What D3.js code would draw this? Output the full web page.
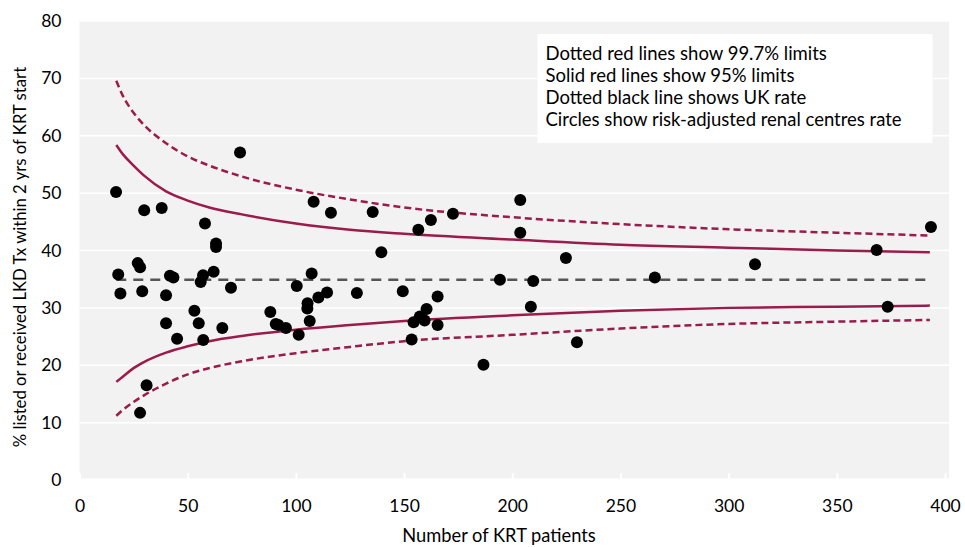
<!DOCTYPE html>
<html>
<head>
<meta charset="utf-8">
<script src="https://cdn.jsdelivr.net/npm/d3@7"></script>
<style>
  body { margin: 0; background: #fff; }
  text { font-family: Lato, "Open Sans", sans-serif; fill: #000; }
</style>
</head>
<body>
<div id="chart"></div>
<script>
// tick labels
const xTicks = [0, 50, 100, 150, 200, 250, 300, 350, 400];
const yTicks = [0, 10, 20, 30, 40, 50, 60, 70, 80];

// UK rate (dotted black line)
const ukRate = 34.9;

// funnel limits
const limitN   = [17, 20, 25, 30, 40, 50, 60, 75, 100, 125, 150, 200, 250, 300, 350, 393];
const upper997 = [69.6, 67.0, 64.0, 61.8, 58.7, 56.4, 54.8, 52.9, 50.6, 48.9, 47.5, 45.8, 44.6, 43.7, 43.1, 42.6];
const upper95  = [58.4, 56.8, 54.8, 53.0, 50.3, 48.7, 47.5, 46.3, 44.7, 43.6, 42.9, 41.9, 41.0, 40.5, 40.0, 39.7];
const lower95  = [17.1, 18.0, 19.5, 20.6, 22.2, 23.3, 24.2, 25.1, 26.2, 27.0, 27.7, 28.7, 29.5, 30.0, 30.2, 30.4];
const lower997 = [11.2, 12.2, 13.6, 14.8, 16.8, 18.4, 19.5, 20.7, 22.1, 23.2, 24.2, 25.3, 26.4, 27.2, 27.6, 27.9];

// renal centres: number of KRT patients and risk-adjusted rate
const centreN = [
  74.2, 16.9, 29.9, 38.0, 58.0, 63.1, 63.1, 26.9, 28.0, 17.9,
  41.8, 43.4, 57.1, 56.0, 62.0, 70.0, 18.9, 29.0, 40.0, 53.1,
  88.2, 90.7, 40.0, 55.1, 66.0, 45.1, 57.2, 31.0, 28.0, 108.2,
  116.2, 135.5, 172.6, 162.4, 156.6, 139.5, 107.3, 100.4, 194.3, 114.4,
  110.4, 128.2, 149.4, 165.5, 105.4, 105.3, 160.4, 157.3, 159.5, 154.4,
  91.9, 95.4, 106.4, 165.5, 101.3, 153.5, 186.7, 203.7, 203.7, 224.8,
  209.7, 265.9, 312.2, 368.4, 393.5, 208.6, 373.5, 229.9
];
const centreRate = [
  57.1, 50.2, 47.0, 47.4, 44.7, 41.2, 40.6, 37.8, 37.1, 35.8,
  35.6, 35.3, 35.7, 34.5, 36.3, 33.5, 32.5, 32.9, 32.2, 29.5,
  29.3, 27.2, 27.3, 27.3, 26.5, 24.6, 24.4, 16.5, 11.7, 48.5,
  46.6, 46.7, 46.4, 45.3, 43.6, 39.7, 36.0, 33.8, 34.9, 32.7,
  31.8, 32.6, 32.9, 32.0, 30.8, 29.9, 29.8, 28.5, 27.8, 27.5,
  27.0, 26.5, 27.7, 27.0, 25.3, 24.5, 20.1, 48.8, 43.1, 38.7,
  34.7, 35.3, 37.6, 40.1, 44.1, 30.2, 30.2, 24.0
];

const legendLines = [
  "Dotted red lines show 99.7% limits",
  "Solid red lines show 95% limits",
  "Dotted black line shows UK rate",
  "Circles show risk-adjusted renal centres rate"
];

const width = 965, height = 547;
const red = "#9b1b4a";

const svg = d3.select("#chart").append("svg")
  .attr("width", width)
  .attr("height", height);

const x = d3.scaleLinear().domain([0, 400]).range([79.5, 945]);
const y = d3.scaleLinear().domain([0, 80]).range([480, 21]);

// plot background
svg.append("rect")
  .attr("x", x(0))
  .attr("y", y(80))
  .attr("width", 949 - x(0))
  .attr("height", y(0) - y(80))
  .attr("fill", "#f2f2f2");

// horizontal gridlines
svg.append("g")
  .selectAll("line")
  .data(yTicks)
  .join("line")
  .attr("x1", x(0))
  .attr("x2", 949)
  .attr("y1", d => y(d))
  .attr("y2", d => y(d))
  .attr("stroke", "#fff")
  .attr("stroke-width", d => d === 0 ? 3 : 1.5);

// y axis labels
const yAxis = svg.append("g")
  .attr("transform", `translate(${x(0) - 18}, 0)`)
  .call(d3.axisLeft(y).tickValues(yTicks).tickSize(0).tickPadding(0));
yAxis.select(".domain").remove();
yAxis.selectAll("text")
  .style("font-size", "17.5px")
  .style("font-family", "Lato, sans-serif")
  .attr("fill", "#000");

// x axis, white inner ticks
const xAxis = svg.append("g")
  .attr("transform", `translate(0, ${y(0)})`)
  .call(d3.axisBottom(x).tickValues(xTicks).tickSizeInner(-7).tickSizeOuter(0).tickPadding(20));
xAxis.select(".domain").remove();
xAxis.selectAll("line").attr("stroke", "#fff").attr("stroke-width", 2);
xAxis.selectAll("text")
  .style("font-size", "17.5px")
  .style("font-family", "Lato, sans-serif")
  .attr("fill", "#000");

// axis titles
svg.append("text")
  .attr("x", 499)
  .attr("y", 537)
  .attr("text-anchor", "middle")
  .attr("dominant-baseline", "middle")
  .style("font-size", "18.3px")
  .text("Number of KRT patients");

svg.append("text")
  .attr("transform", "translate(22, 257) rotate(-90)")
  .attr("text-anchor", "middle")
  .attr("dominant-baseline", "middle")
  .style("font-size", "16.7px")
  .text("% listed or received LKD Tx within 2 yrs of KRT start");

// funnel limit lines
const line = d3.line()
  .x(d => x(d[0]))
  .y(d => y(d[1]))
  .curve(d3.curveMonotoneX);

const limits = [
  { values: upper997, dash: "7,4" },
  { values: lower997, dash: "7,4" },
  { values: upper95, dash: null },
  { values: lower95, dash: null }
];

svg.append("g")
  .selectAll("path")
  .data(limits)
  .join("path")
  .attr("d", d => line(limitN.map((n, i) => [n, d.values[i]])))
  .attr("fill", "none")
  .attr("stroke", red)
  .attr("stroke-width", 2.5)
  .attr("stroke-dasharray", d => d.dash);

// UK rate
svg.append("line")
  .attr("x1", x(d3.min(limitN)))
  .attr("x2", x(d3.max(limitN)))
  .attr("y1", y(ukRate))
  .attr("y2", y(ukRate))
  .attr("stroke", "#555")
  .attr("stroke-width", 2.5)
  .attr("stroke-dasharray", "10,7");

// centres
svg.append("g")
  .selectAll("circle")
  .data(centreN.map((n, i) => [n, centreRate[i]]))
  .join("circle")
  .attr("cx", d => x(d[0]))
  .attr("cy", d => y(d[1]))
  .attr("r", 6)
  .attr("fill", "#000");

// legend box
const legend = svg.append("g");
legend.append("rect")
  .attr("x", 537.5)
  .attr("y", 34)
  .attr("width", 395)
  .attr("height", 109)
  .attr("fill", "#fff");

legend.selectAll("text")
  .data(legendLines)
  .join("text")
  .attr("x", 545.5)
  .attr("y", (d, i) => 59.5 + i * 22.3)
  .style("font-size", "18.5px")
  .text(d => d);
</script>
</body>
</html>
